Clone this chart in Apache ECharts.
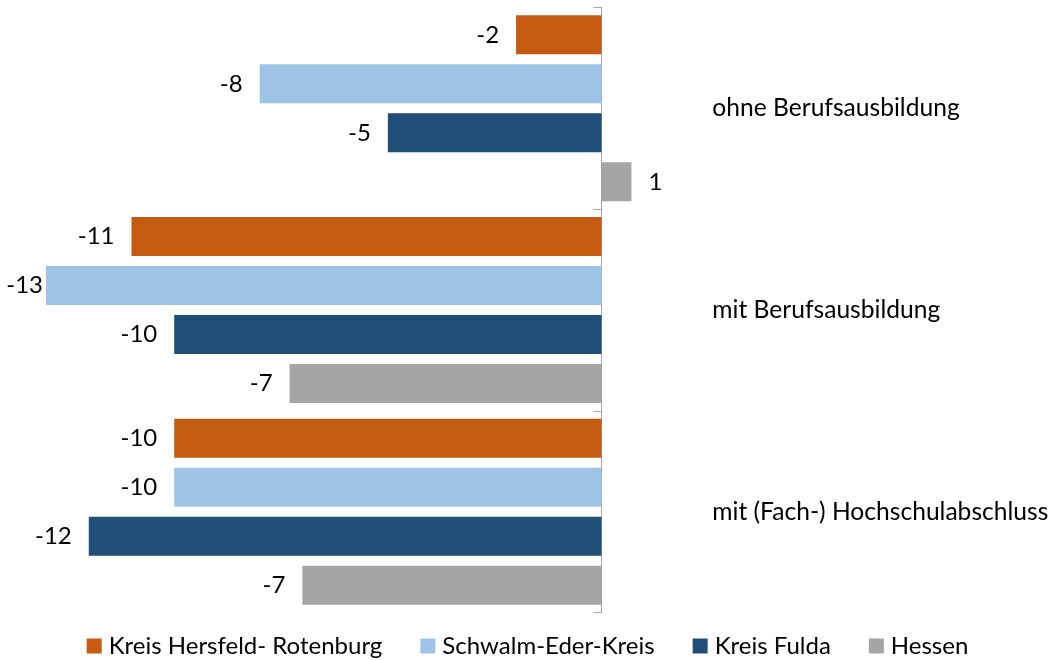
<!DOCTYPE html>
<html><head><meta charset="utf-8">
<script src="https://cdn.jsdelivr.net/npm/echarts@6/dist/echarts.min.js"></script>
<style>html,body{margin:0;padding:0;background:#fff}#c{width:1055px;height:660px}</style>
</head><body><div id="c"></div>
<script>
const categories = ['ohne Berufsausbildung', 'mit Berufsausbildung', 'mit (Fach-) Hochschulabschluss'];
const seriesNames = ['Kreis Hersfeld- Rotenburg', 'Schwalm-Eder-Kreis', 'Kreis Fulda', 'Hessen'];
const hersfeld = [-2, -11, -10];
const schwalm = [-8, -13, -10];
const fulda = [-5, -10, -12];
const hessen = [0.7, -7.3, -7.0];

const seriesValues = [hersfeld, schwalm, fulda, hessen];
const colors = ['#C55A11', '#9DC3E6', '#1F4E79', '#A5A5A5'];
const FONT = 'Lato';
const FS = 24;
const FS_TEXT = 24.6;

const chart = echarts.init(document.getElementById('c'), null, {renderer: 'canvas'});
const series = seriesValues.map((vals, i) => ({
  name: seriesNames[i],
  type: 'bar',
  barWidth: 39,
  barGap: '25.64%',
  itemStyle: {color: colors[i]},
  label: {
    show: true,
    color: '#000',
    fontFamily: FONT,
    fontSize: FS,
    formatter: p => String(Math.round(p.value))
  },
  data: vals.map(v => ({
    value: v,
    label: {position: v < 0 ? 'left' : 'right', distance: v <= -13 ? 3 : 17}
  }))
}));

chart.setOption({
  animation: false,
  textStyle: {fontFamily: FONT},
  grid: {left: 3.3, right: 26.2, top: 7.5, bottom: 47.3, containLabel: false, outerBoundsMode: 'none'},
  xAxis: {type: 'value', min: -14, max: 10, show: false},
  yAxis: {
    type: 'category',
    data: categories,
    inverse: true,
    axisLine: {show: true, onZero: true, lineStyle: {color: '#A6A6A6', width: 1}},
    axisTick: {show: true, length: 8, lineStyle: {color: '#A6A6A6'}},
    axisLabel: {inside: true, margin: 709, color: '#000', fontSize: FS_TEXT, fontFamily: FONT, padding: [3, 0, 0, 0]},
    splitLine: {show: false}
  },
  legend: {
    left: 'center',
    top: 629,
    icon: 'rect',
    itemWidth: 15,
    itemHeight: 15,
    itemGap: 38,
    textStyle: {color: '#000', fontSize: FS, fontFamily: FONT, padding: [0, 0, 0, 2]},
    data: seriesNames
  },
  series: series
});
</script>
</body></html>
